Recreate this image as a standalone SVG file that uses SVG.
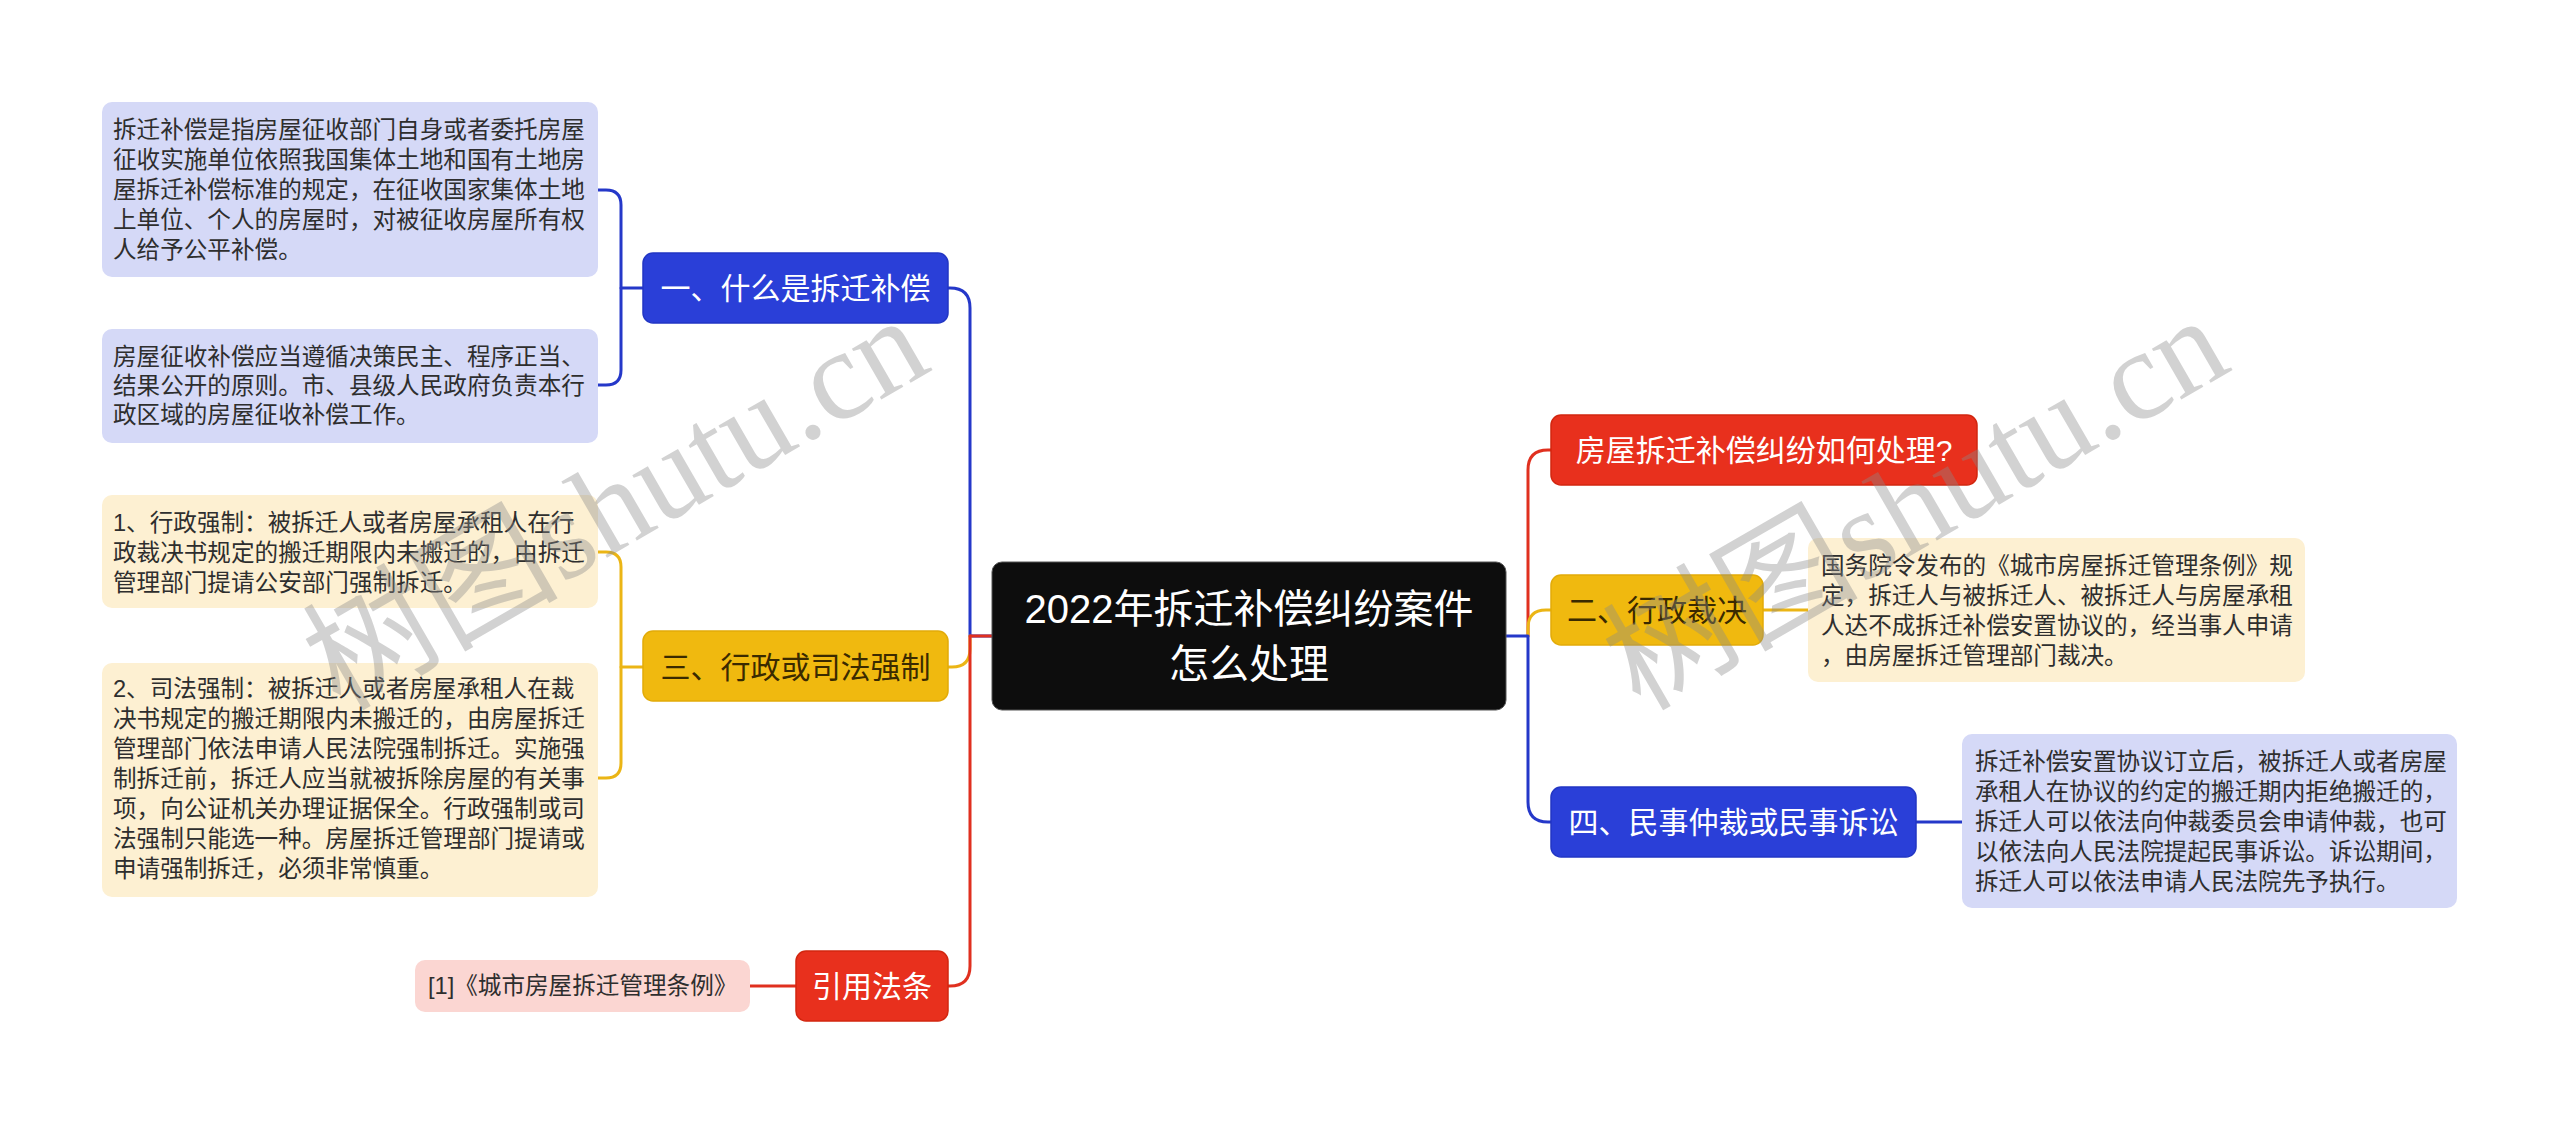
<svg xmlns="http://www.w3.org/2000/svg" width="2560" height="1121" viewBox="0 0 2560 1121">
<style>
text{font-family:"Liberation Sans","Noto Sans CJK SC",sans-serif}
.ln{fill:none;stroke-width:3;stroke-linecap:round;stroke-linejoin:round}
.b{stroke:#2538c9}.y{stroke:#ebb515}.r{stroke:#e0301f}
.bt{font-size:30px;dominant-baseline:central;text-anchor:middle}
.lt{font-size:23.6px;dominant-baseline:central;fill:#2e2e2e}
.wm{font-family:"Liberation Serif","Noto Sans CJK SC",serif;font-size:128px;fill:#8a8a8a;opacity:0.38}
</style>
<rect width="2560" height="1121" fill="#ffffff"/>
<g id="connectors">
<path class="ln b" d="M992,636 H970 V308 Q970,288 950,288 H948"/>
<path class="ln y" d="M948,667 H952 Q970,667 970,649 V636"/>
<path class="ln r" d="M992,636 H970 V966 Q970,986 950,986 H948"/>
<path class="ln b" d="M643,288 H621"/>
<path class="ln b" d="M598,190 H606 Q621,190 621,205 V370 Q621,385 606,385 H598"/>
<path class="ln y" d="M643,667 H621"/>
<path class="ln y" d="M598,552 H606 Q621,552 621,567 V763 Q621,778 606,778 H598"/>
<path class="ln r" d="M796,986 H750"/>
<path class="ln r" d="M1528,636 V470 Q1528,450 1548,450 H1551"/>
<path class="ln y" d="M1528,636 V628 Q1528,610 1546,610 H1551"/>
<path class="ln b" d="M1506,636 H1528 V802 Q1528,822 1548,822 H1551"/>
<path class="ln y" d="M1763,610 H1808"/>
<path class="ln b" d="M1916,822 H1962"/>
</g>
<g id="center">
<rect x="992" y="562" width="514" height="148" rx="10" fill="#0d0d0d" stroke="#555" stroke-width="1"/>
<text x="1249" y="609" font-size="40" fill="#ffffff" text-anchor="middle" dominant-baseline="central">2022年拆迁补偿纠纷案件</text>
<text x="1249" y="664" font-size="40" fill="#ffffff" text-anchor="middle" dominant-baseline="central">怎么处理</text>
</g>
<g id="branch1">
<rect x="643" y="253" width="305" height="70" rx="10" fill="#2a3fd8" stroke="#2236c4" stroke-width="1.5"/>
<text class="bt" x="795.5" y="288" fill="#ffffff">一、什么是拆迁补偿</text>
</g>
<g id="leaf1">
<rect x="102" y="102" width="496" height="175" rx="10" fill="#d5d9f7"/>
<text class="lt" x="113" y="130">拆迁补偿是指房屋征收部门自身或者委托房屋</text>
<text class="lt" x="113" y="160">征收实施单位依照我国集体土地和国有土地房</text>
<text class="lt" x="113" y="190">屋拆迁补偿标准的规定，在征收国家集体土地</text>
<text class="lt" x="113" y="220">上单位、个人的房屋时，对被征收房屋所有权</text>
<text class="lt" x="113" y="250">人给予公平补偿。</text>
</g>
<g id="leaf2">
<rect x="102" y="329" width="496" height="114" rx="10" fill="#d5d9f7"/>
<text class="lt" x="113" y="357">房屋征收补偿应当遵循决策民主、程序正当、</text>
<text class="lt" x="113" y="386">结果公开的原则。市、县级人民政府负责本行</text>
<text class="lt" x="113" y="415">政区域的房屋征收补偿工作。</text>
</g>
<g id="branch3">
<rect x="643" y="631" width="305" height="70" rx="10" fill="#f0b90f" stroke="#e2ab08" stroke-width="1.5"/>
<text class="bt" x="795.5" y="667" fill="#3a2a00">三、行政或司法强制</text>
</g>
<g id="leaf3">
<rect x="102" y="495" width="496" height="113" rx="10" fill="#fdf0d2"/>
<text class="lt" x="113" y="523">1、行政强制：被拆迁人或者房屋承租人在行</text>
<text class="lt" x="113" y="553">政裁决书规定的搬迁期限内未搬迁的，由拆迁</text>
<text class="lt" x="113" y="583">管理部门提请公安部门强制拆迁。</text>
</g>
<g id="leaf4">
<rect x="102" y="663" width="496" height="234" rx="10" fill="#fdf0d2"/>
<text class="lt" x="113" y="689">2、司法强制：被拆迁人或者房屋承租人在裁</text>
<text class="lt" x="113" y="719">决书规定的搬迁期限内未搬迁的，由房屋拆迁</text>
<text class="lt" x="113" y="749">管理部门依法申请人民法院强制拆迁。实施强</text>
<text class="lt" x="113" y="779">制拆迁前，拆迁人应当就被拆除房屋的有关事</text>
<text class="lt" x="113" y="809">项，向公证机关办理证据保全。行政强制或司</text>
<text class="lt" x="113" y="839">法强制只能选一种。房屋拆迁管理部门提请或</text>
<text class="lt" x="113" y="869">申请强制拆迁，必须非常慎重。</text>
</g>
<g id="branch-ref">
<rect x="796" y="951" width="152" height="70" rx="10" fill="#e8301d" stroke="#d2260f" stroke-width="1.5"/>
<text class="bt" x="872" y="986" fill="#ffffff">引用法条</text>
</g>
<g id="leaf-ref">
<rect x="415" y="960" width="335" height="52" rx="10" fill="#fbd6d2"/>
<text class="lt" x="428" y="986" fill="#3a2626">[1]《城市房屋拆迁管理条例》</text>
</g>
<g id="branch-q">
<rect x="1551" y="415" width="426" height="70" rx="10" fill="#e8301d" stroke="#d2260f" stroke-width="1.5"/>
<text class="bt" x="1764" y="450" fill="#ffffff">房屋拆迁补偿纠纷如何处理?</text>
</g>
<g id="branch2">
<rect x="1551" y="575" width="212" height="70" rx="10" fill="#f0b90f" stroke="#e2ab08" stroke-width="1.5"/>
<text class="bt" x="1657" y="610" fill="#3a2a00">二、行政裁决</text>
</g>
<g id="leaf5">
<rect x="1808" y="538" width="497" height="144" rx="10" fill="#fdf0d2"/>
<text class="lt" x="1821" y="566">国务院令发布的《城市房屋拆迁管理条例》规</text>
<text class="lt" x="1821" y="596">定，拆迁人与被拆迁人、被拆迁人与房屋承租</text>
<text class="lt" x="1821" y="626">人达不成拆迁补偿安置协议的，经当事人申请</text>
<text class="lt" x="1821" y="656">，由房屋拆迁管理部门裁决。</text>
</g>
<g id="branch4">
<rect x="1551" y="787" width="365" height="70" rx="10" fill="#2a3fd8" stroke="#2236c4" stroke-width="1.5"/>
<text class="bt" x="1733.5" y="822" fill="#ffffff">四、民事仲裁或民事诉讼</text>
</g>
<g id="leaf6">
<rect x="1962" y="734" width="495" height="174" rx="10" fill="#d5d9f7"/>
<text class="lt" x="1975" y="762">拆迁补偿安置协议订立后，被拆迁人或者房屋</text>
<text class="lt" x="1975" y="792">承租人在协议的约定的搬迁期内拒绝搬迁的，</text>
<text class="lt" x="1975" y="822">拆迁人可以依法向仲裁委员会申请仲裁，也可</text>
<text class="lt" x="1975" y="852">以依法向人民法院提起民事诉讼。诉讼期间，</text>
<text class="lt" x="1975" y="882">拆迁人可以依法申请人民法院先予执行。</text>
</g>
<g id="watermark">
<text class="wm" transform="translate(340,712) rotate(-30)">树图shutu.cn</text>
<text class="wm" transform="translate(1640,712) rotate(-30)">树图shutu.cn</text>
</g>
</svg>
